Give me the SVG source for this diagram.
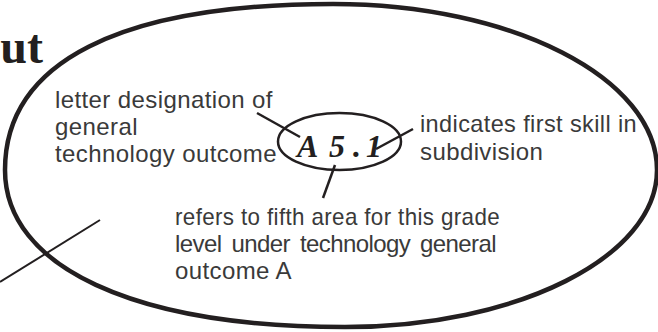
<svg xmlns="http://www.w3.org/2000/svg" width="658" height="332" viewBox="0 0 658 332">
<style>
.lbl{font-family:"Liberation Sans",Arial,sans-serif;font-size:24px;fill:#3a3a3a;letter-spacing:0.4px}
.ln{stroke:#231f20;fill:none;stroke-linecap:butt}
</style>
<rect width="658" height="332" fill="#fff"/>
<text x="43" y="63" text-anchor="end" font-family="Liberation Serif,serif" font-weight="bold" font-size="48" fill="#231f20">ut</text>
<g id="outer">
<path class="ln" stroke-width="4.5" d="M5,170 C5,62 120,4 333,4 C512,4 657,78 657,170 C657,257 517,327 345,327 C134,327 5,267 5,170 Z"/>
</g>
<g id="code">
<ellipse class="ln" stroke-width="2.5" cx="339.5" cy="141.5" rx="61.5" ry="28.5"/>
<text x="297 329 353 366" y="157" font-family="Liberation Serif,serif" font-weight="bold" font-style="italic" font-size="32" fill="#231f20">A5.1</text>
</g>
<g id="label-letter">
<text class="lbl" x="55" y="108">letter designation of</text>
<text class="lbl" x="55" y="135">general</text>
<text class="lbl" x="55" y="162">technology outcome</text>
</g>
<g id="label-skill">
<text class="lbl" x="420" y="132" textLength="217" lengthAdjust="spacingAndGlyphs">indicates first skill in</text>
<text class="lbl" x="420" y="160">subdivision</text>
</g>
<g id="label-area">
<text class="lbl" x="175" y="225" textLength="325" lengthAdjust="spacingAndGlyphs">refers to fifth area for this grade</text>
<text class="lbl" x="175" y="252" textLength="322" lengthAdjust="spacing" word-spacing="4">level under technology general</text>
<text class="lbl" x="175" y="279">outcome A</text>
</g>
<g id="connectors">
<line class="ln" stroke-width="2.5" x1="257" y1="113" x2="300" y2="137"/>
<line class="ln" stroke-width="2.5" x1="413" y1="129" x2="376" y2="149"/>
<line class="ln" stroke-width="2.5" x1="335" y1="165" x2="323" y2="198"/>
<line class="ln" stroke-width="2" x1="100" y1="220" x2="0" y2="282"/>
</g>
</svg>
